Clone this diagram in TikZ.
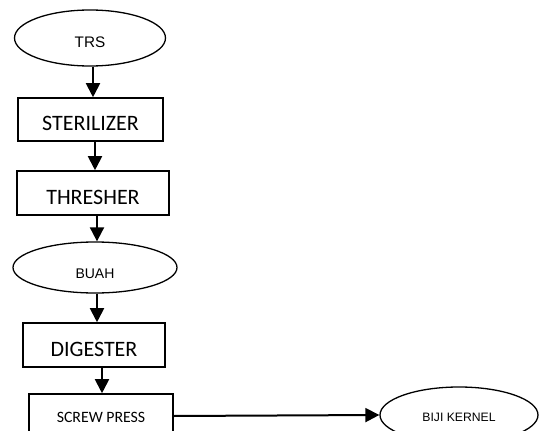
\documentclass[tikz,border=0pt]{standalone}
\usepackage{fontspec}
\setmainfont{Carlito}
\newfontfamily\ovalfont{Liberation Sans}
\usepackage{tikz}
\usetikzlibrary{shapes.geometric}
\usetikzlibrary{arrows.meta}

\tikzset{
  stepbox/.style={draw, rectangle, line width=1.6pt, inner sep=0pt,
    minimum height=44pt},
  stepoval/.style={draw, ellipse, line width=1.3pt, inner sep=0pt},
  bigtext/.style={font=\fontsize{22}{22}\selectfont, text height=22.5pt, text depth=0pt},
  flow/.style={line width=2pt, -{Triangle[width=14pt,length=14pt]}}
}

\begin{document}
\begin{tikzpicture}[thin, x=1pt, y=-1pt]
  % Frame
  \useasboundingbox (0,0) rectangle (539,431);
  \clip (0,0) rectangle (539,431);

  % Process steps
  \node[stepoval, font=\ovalfont\fontsize{15.3}{16}\selectfont, text height=19.4pt, text depth=0pt,
    minimum width=151pt, minimum height=56pt] (trs) at (90,38) {TRS};
  \node[stepbox, bigtext, minimum width=145pt, minimum height=43pt] (ster) at (90.5,119.5) {STERILIZER};
  \node[stepbox, bigtext, minimum width=152pt] (thresh) at (93,193) {THRESHER};
  \node[stepoval, font=\ovalfont\fontsize{14}{15}\selectfont, text height=21pt, text depth=0pt,
    minimum width=164pt, minimum height=51pt] (buah) at (95,267.5) {BUAH};
  \node[stepbox, bigtext, minimum width=142pt] (dig) at (94,345) {DIGESTER};
  \node[stepbox, font=\fontsize{15.8}{16}\selectfont, text height=12.8pt, text depth=0pt,
    minimum width=144pt] (screw) at (101,416) {SCREW PRESS};
  \node[stepoval, font=\ovalfont\fontsize{12.2}{13}\selectfont, text height=12.1pt, text depth=0pt,
    minimum width=158pt, minimum height=56pt] (biji) at (459,415) {BIJI KERNEL};

  % Arrows
  \draw[flow] ([xshift=3pt]trs.south) -- ([xshift=3pt]trs.south |- ster.north);
  \draw[flow] ([xshift=4.5pt]ster.south) -- ([xshift=4.5pt]ster.south |- thresh.north);
  \draw[flow] ([xshift=4pt]thresh.south) -- ([xshift=4pt]thresh.south |- buah.north);
  \draw[flow] ([xshift=2pt]buah.south) -- ([xshift=2pt]buah.south |- dig.north);
  \draw[flow] ([xshift=8pt]dig.south) -- ([xshift=8pt]dig.south |- screw.north);
  \draw[flow] (screw.east) -- (biji.west);
\end{tikzpicture}
\end{document}
